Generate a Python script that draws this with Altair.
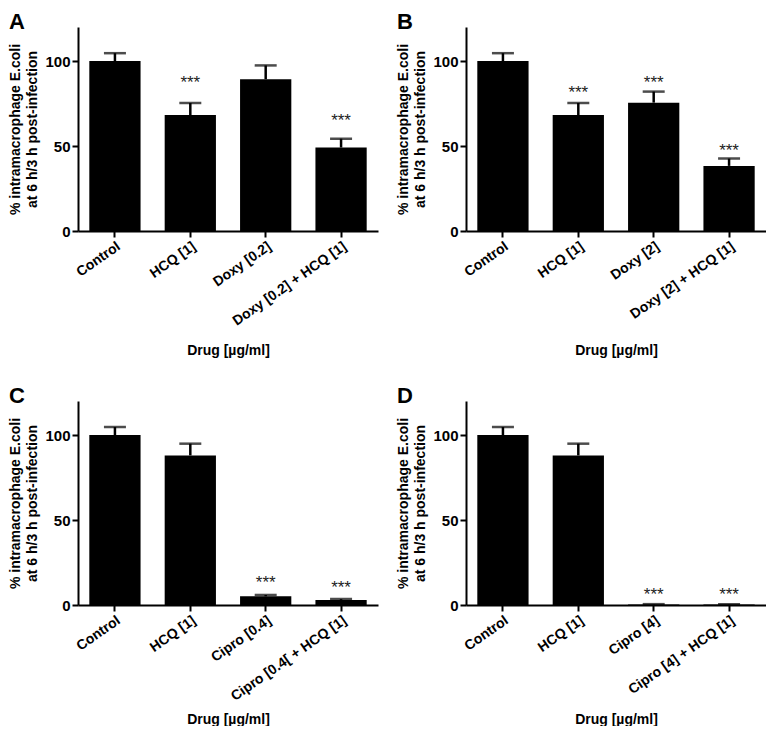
import altair as alt
import pandas as pd

FONT = "Liberation Sans"

cats_A = ["Control", "HCQ [1]", "Doxy [0.2]", "Doxy [0.2] + HCQ [1]"]
mean_A = [100, 68.2, 89.3, 49.1]
err_A = [104.6, 75.3, 97.4, 54.3]
sig_A = ["", "***", "", "***"]
star_A = [None, 88.9, None, 66.6]

cats_B = ["Control", "HCQ [1]", "Doxy [2]", "Doxy [2] + HCQ [1]"]
mean_B = [100, 68.2, 75.5, 38.3]
err_B = [104.6, 75.3, 82.0, 42.6]
sig_B = ["", "***", "***", "***"]
star_B = [None, 82.8, 88.9, 48.9]

cats_C = ["Control", "HCQ [1]", "Cipro [0.4]", "Cipro [0.4[ + HCQ [1]"]
mean_C = [100, 88.0, 5.1, 3.0]
err_C = [104.7, 94.9, 5.9, 3.5]
sig_C = ["", "", "***", "***"]
star_C = [None, None, 14.8, 11.6]

cats_D = ["Control", "HCQ [1]", "Cipro [4]", "Cipro [4] + HCQ [1]"]
mean_D = [100, 88.0, 0.3, 0.3]
err_D = [104.7, 94.9, 0.5, 0.5]
sig_D = ["", "", "***", "***"]
star_D = [None, None, 7.7, 7.7]

Y_TITLE = ["% intramacrophage  E.coli", "at 6 h/3 h post-infection"]
X_TITLE = "Drug [µg/ml]"


def panel(letter, cats, means, errs, sigs, stars, title_y):
    df = pd.DataFrame({"drug": cats, "mean": means, "err": errs,
                       "sig": sigs, "star": stars})
    x = alt.X("drug:N", sort=cats,
              scale=alt.Scale(paddingInner=0.32, paddingOuter=0.15),
              axis=alt.Axis(title=X_TITLE, labelAngle=-35, titleY=title_y,
                            titleBaseline="middle"))
    y = alt.Y("mean:Q", scale=alt.Scale(domain=[0, 120], nice=False),
              axis=alt.Axis(values=[0, 50, 100], title=Y_TITLE, titlePadding=5,
                            titleLineHeight=17, labelFontSize=15, labelPadding=2))
    base = alt.Chart(df)
    bars = base.mark_bar(color="black").encode(x=x, y=y)
    rule = base.mark_rule(color="black", strokeWidth=2.5).encode(
        x=alt.X("drug:N", sort=cats), y="mean:Q", y2="err:Q")
    cap = base.mark_tick(color="black", thickness=2.5, size=22).encode(
        x=alt.X("drug:N", sort=cats), y="err:Q")
    txt = base.mark_text(fontSize=17, font=FONT, color="#222222",
                         baseline="alphabetic", dy=8).encode(
        x=alt.X("drug:N", sort=cats), y="star:Q", text="sig:N")
    return alt.layer(bars, rule, cap, txt).properties(
        width=300, height=204,
        title=alt.TitleParams(letter, anchor="start", frame="bounds",
                              fontSize=22, font=FONT, fontWeight="bold",
                              offset=-7))


top = alt.hconcat(panel("A", cats_A, mean_A, err_A, sig_A, star_A, 119),
                  panel("B", cats_B, mean_B, err_B, sig_B, star_B, 119), spacing=18)
bottom = alt.hconcat(panel("C", cats_C, mean_C, err_C, sig_C, star_C, 114),
                     panel("D", cats_D, mean_D, err_D, sig_D, star_D, 114), spacing=18)
chart = alt.vconcat(top, bottom, spacing=28).properties(
    padding={"left": 0, "top": 3, "right": 0, "bottom": 0}
).configure_axis(
    domainColor="black", domainWidth=2, tickColor="black", tickWidth=2,
    tickSize=6, grid=False, labelFont=FONT, labelFontWeight="bold",
    labelFontSize=14, labelColor="black", titleFont=FONT,
    titleFontWeight="bold", titleFontSize=14, titleColor="black",
    labelPadding=2
).configure_view(stroke=None)

chart.save("out.html", embed_options={"renderer": "svg", "actions": False})
